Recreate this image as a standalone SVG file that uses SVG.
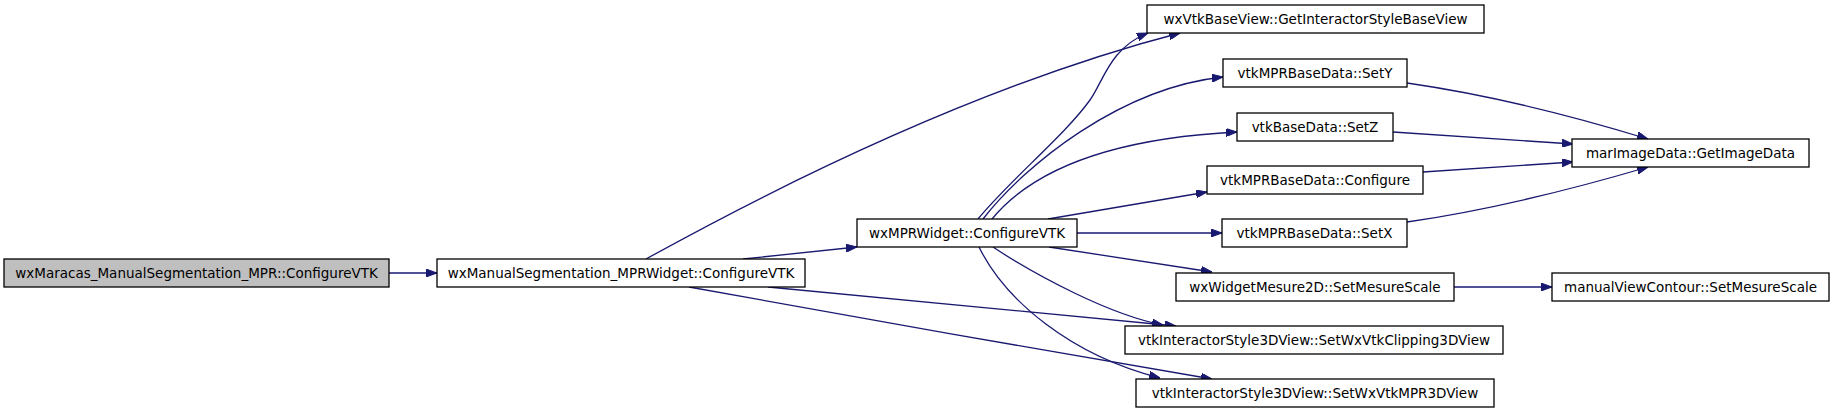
<svg xmlns="http://www.w3.org/2000/svg" width="1835" height="413" viewBox="0 0 1835 413">
<style>
.node rect{fill:#ffffff;stroke:#000000;stroke-width:1.3}
.node.root rect{fill:#bfbfbf}
.node text{font-family:"DejaVu Sans",sans-serif;font-size:13.5px;fill:#000000;text-anchor:middle}
.edges path{fill:none;stroke:#191970;stroke-width:1.3;marker-end:url(#arrow)}
</style>
<defs>
<marker id="arrow" viewBox="0 0 11 8" refX="11" refY="4" markerUnits="userSpaceOnUse" markerWidth="11" markerHeight="8" orient="auto">
<path d="M0,0 L11,4 L0,8 z" fill="#191970" stroke="#191970" stroke-width="1"/>
</marker>
</defs>
<rect width="1835" height="413" fill="#ffffff"/>
<g class="edges" id="edges">
<path d="M389,273 L437,273"/>
<path d="M646,259 C780,185 980,85 1180,33"/>
<path d="M743,259 L857,247"/>
<path d="M768,287 L1176,326"/>
<path d="M689,287 C850,316 1050,352 1212,379"/>
<path d="M978,219 C1010,180 1065,135 1090,100 C1104,80 1110,48 1148,33"/>
<path d="M983,219 C1025,165 1120,88 1223,77"/>
<path d="M992,219 C1020,185 1080,140 1237,132"/>
<path d="M1048,219 L1207,192"/>
<path d="M1077,233 L1222,233"/>
<path d="M1049,247 L1212,272"/>
<path d="M993,247 C1035,275 1110,315 1163,325"/>
<path d="M979,247 C1005,300 1070,355 1160,378"/>
<path d="M1407,83 C1490,95 1570,115 1648,139"/>
<path d="M1393,132 L1573,144"/>
<path d="M1423,172 L1573,162"/>
<path d="M1407,222 C1490,210 1570,190 1648,167"/>
<path d="M1454,287 L1552,287"/>
</g>
<g class="node root" id="node1"><rect x="4" y="259" width="385" height="28"/><text x="196.5" y="277.5">wxMaracas_ManualSegmentation_MPR::ConfigureVTK</text></g>
<g class="node" id="node2"><rect x="437" y="259" width="368" height="28"/><text x="621" y="277.5">wxManualSegmentation_MPRWidget::ConfigureVTK</text></g>
<g class="node" id="node3"><rect x="857" y="219" width="220" height="28"/><text x="967" y="237.5">wxMPRWidget::ConfigureVTK</text></g>
<g class="node" id="node4"><rect x="1147" y="5" width="337" height="28"/><text x="1315.5" y="23.5">wxVtkBaseView::GetInteractorStyleBaseView</text></g>
<g class="node" id="node5"><rect x="1223" y="59" width="184" height="28"/><text x="1315" y="77.5">vtkMPRBaseData::SetY</text></g>
<g class="node" id="node6"><rect x="1237" y="113" width="156" height="28"/><text x="1315" y="131.5">vtkBaseData::SetZ</text></g>
<g class="node" id="node7"><rect x="1207" y="166" width="216" height="28"/><text x="1315" y="184.5">vtkMPRBaseData::Configure</text></g>
<g class="node" id="node8"><rect x="1222" y="219" width="185" height="28"/><text x="1314.5" y="237.5">vtkMPRBaseData::SetX</text></g>
<g class="node" id="node9"><rect x="1176" y="273" width="278" height="28"/><text x="1315" y="291.5">wxWidgetMesure2D::SetMesureScale</text></g>
<g class="node" id="node10"><rect x="1125" y="326" width="378" height="28"/><text x="1314" y="344.5">vtkInteractorStyle3DView::SetWxVtkClipping3DView</text></g>
<g class="node" id="node11"><rect x="1136" y="379" width="358" height="28"/><text x="1315" y="397.5">vtkInteractorStyle3DView::SetWxVtkMPR3DView</text></g>
<g class="node" id="node12"><rect x="1572" y="139" width="237" height="28"/><text x="1690.5" y="157.5">marImageData::GetImageData</text></g>
<g class="node" id="node13"><rect x="1552" y="273" width="277" height="28"/><text x="1690.5" y="291.5">manualViewContour::SetMesureScale</text></g>
</svg>
